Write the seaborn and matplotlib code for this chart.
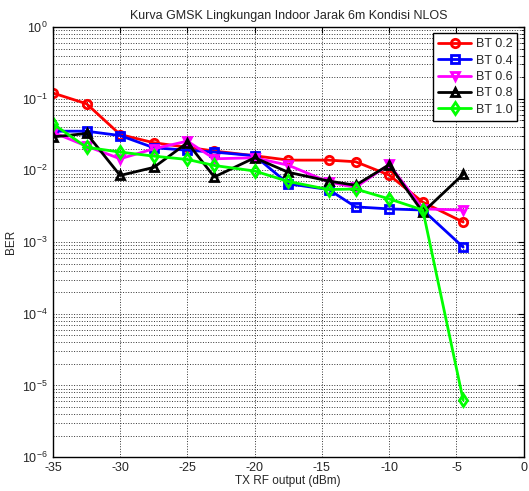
import matplotlib
matplotlib.use("Agg")
import matplotlib.pyplot as plt
import seaborn as sns
import pandas as pd
import numpy as np
from matplotlib.ticker import LogLocator, NullFormatter, FixedLocator

tx_power = [-35, -32.5, -30, -27.5, -25, -23, -20, -17.5, -14.5, -12.5, -10, -7.5, -4.5]
bt02 = [0.12, 0.085, 0.0316, 0.0243, 0.021, 0.0186, 0.016, 0.0139, 0.0139, 0.0132, 0.0086, 0.0036, 0.0019]
bt04 = [0.0352, 0.0352, 0.0306, 0.0207, 0.0191, 0.018, 0.016, 0.0065, 0.0054, 0.0031, 0.0029, 0.0028, 0.00085]
bt06 = [0.034, 0.0218, 0.0145, 0.020, 0.0256, 0.0145, 0.015, 0.0118, 0.0069, 0.0058, 0.0121, 0.0029, 0.0028]
bt08 = [0.0293, 0.0327, 0.0085, 0.011, 0.0243, 0.0081, 0.015, 0.0094, 0.0071, 0.0062, 0.012, 0.0026, 0.0088]
bt10 = [0.0446, 0.021, 0.018, 0.0158, 0.0142, 0.0117, 0.0098, 0.007, 0.0054, 0.0055, 0.004, 0.0028, 6.25e-6]

labels = ["BT 0.2", "BT 0.4", "BT 0.6", "BT 0.8", "BT 1.0"]
series = [bt02, bt04, bt06, bt08, bt10]
colors = ["#ff0000", "#0000ff", "#ff00ff", "#000000", "#00ff00"]
markers = ["o", "s", "v", "^", "d"]

x_ticks = [-35, -30, -25, -20, -15, -10, -5, 0]

sns.set_style("white")
plt.rcParams['font.family'] = ['Liberation Sans', 'DejaVu Sans']
plt.rcParams['axes.unicode_minus'] = False

df = pd.DataFrame({
    "tx": tx_power * len(labels),
    "ber": [v for s in series for v in s],
    "bt": [l for l in labels for _ in tx_power],
})

fig = plt.figure(figsize=(5.29, 4.91), dpi=100)
ax = fig.add_axes([0.1, 0.069, 0.89, 0.876])

for lab, col, mk in zip(labels, colors, markers):
    sub = df[df["bt"] == lab]
    sns.lineplot(data=sub, x="tx", y="ber", ax=ax, color=col, marker=mk,
                 markersize=6, markerfacecolor="none", markeredgecolor=col,
                 markeredgewidth=2, linewidth=2, label=lab, estimator=None)

ax.set_yscale("log")
ax.set_xlim(-35, 0)
ax.set_ylim(1e-6, 1)
ax.xaxis.set_major_locator(FixedLocator(x_ticks))
ax.yaxis.set_major_locator(LogLocator(base=10, numticks=10))
ax.yaxis.set_minor_locator(LogLocator(base=10, subs=np.arange(2, 10), numticks=20))
ax.yaxis.set_minor_formatter(NullFormatter())

ax.grid(True, which="major", axis="both", linestyle=":", color="#333333", linewidth=0.7)
ax.grid(True, which="minor", axis="y", linestyle=":", color="#333333", linewidth=0.7)
ax.tick_params(axis="both", which="both", direction="in", top=True, right=True,
               labelsize=9, length=4, color="black")
ax.tick_params(axis="y", which="minor", length=2)
for sp in ax.spines.values():
    sp.set_color("black")
    sp.set_linewidth(1)

ax.set_xlabel("TX RF output (dBm)", fontsize=8.5, labelpad=1)
ax.set_ylabel("BER", fontsize=8.5, labelpad=4)
ax.set_title("Kurva GMSK Lingkungan Indoor Jarak 6m Kondisi NLOS", fontsize=9, pad=6)

leg = ax.legend(loc="upper right", fontsize=9, frameon=True, fancybox=False,
                edgecolor="black", framealpha=1, handlelength=2.6, handletextpad=0.4,
                borderaxespad=0.5, labelspacing=0.35, borderpad=0.4)
leg.get_frame().set_linewidth(1)

fig.savefig("out.png", dpi=100)
